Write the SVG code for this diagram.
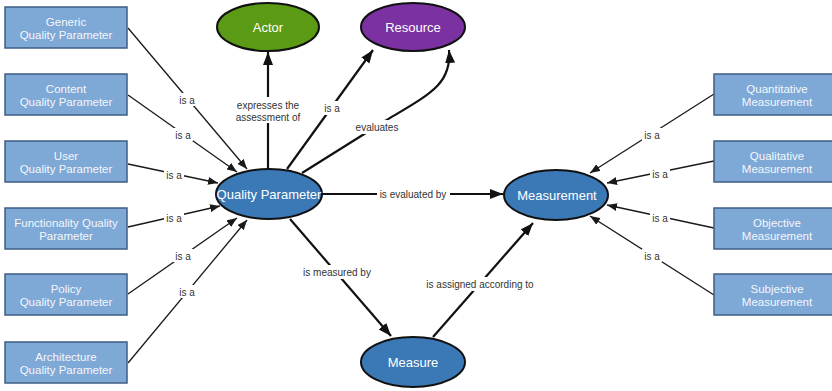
<svg xmlns="http://www.w3.org/2000/svg" width="832" height="391" viewBox="0 0 832 391">
<style>
.box{fill:#7ea8d5;stroke:#3f5e84;stroke-width:1.5}
.btxt{font-family:"Liberation Sans",Arial,sans-serif;font-size:11.5px;fill:#f4f7fc;text-anchor:middle}
.ell{stroke:#111;stroke-width:2}
.blue{fill:#3b78b6}
.etxt{font-family:"Liberation Sans",Arial,sans-serif;font-size:13px;fill:#fff;text-anchor:middle}
.thin{fill:none;stroke:#1a1a1a;stroke-width:1.3}
.thick{fill:none;stroke:#111;stroke-width:2.2}
.lbl{font-family:"Liberation Sans",Arial,sans-serif;font-size:10px;fill:#333;text-anchor:middle}
.bg{fill:#fff}
</style>
<defs>
<marker id="ah" markerUnits="userSpaceOnUse" markerWidth="11" markerHeight="8" refX="10" refY="4" orient="auto"><path d="M0,0 L10,4 L0,8 z" fill="#1a1a1a"/></marker>
<marker id="ahb" markerUnits="userSpaceOnUse" markerWidth="14" markerHeight="11" refX="13" refY="5" orient="auto"><path d="M0,0 L13,5 L0,10 z" fill="#111"/></marker>
</defs>
<rect width="832" height="391" fill="#fff"/>
<g id="connectors">
<line class="thin" x1="128" y1="28" x2="247" y2="169" marker-end="url(#ah)"/>
<line class="thin" x1="128" y1="95" x2="237" y2="172" marker-end="url(#ah)"/>
<line class="thin" x1="128" y1="164" x2="218" y2="183" marker-end="url(#ah)"/>
<line class="thin" x1="128" y1="227" x2="220" y2="206" marker-end="url(#ah)"/>
<line class="thin" x1="128" y1="294" x2="237" y2="218" marker-end="url(#ah)"/>
<line class="thin" x1="128" y1="363" x2="247" y2="220" marker-end="url(#ah)"/>
<line class="thin" x1="714" y1="94" x2="590" y2="173" marker-end="url(#ah)"/>
<line class="thin" x1="714" y1="161" x2="607" y2="183" marker-end="url(#ah)"/>
<line class="thin" x1="714" y1="228" x2="607" y2="205" marker-end="url(#ah)"/>
<line class="thin" x1="714" y1="295" x2="590" y2="216" marker-end="url(#ah)"/>
<line class="thick" x1="268" y1="169" x2="268" y2="52" marker-end="url(#ahb)"/>
<line class="thick" x1="287" y1="169" x2="373" y2="50" marker-end="url(#ahb)"/>
<path class="thick" d="M302,173 L385,121 C430,94 452,84 449,50" marker-end="url(#ahb)"/>
<line class="thick" x1="322" y1="194" x2="503" y2="194" marker-end="url(#ahb)"/>
<line class="thick" x1="290" y1="219" x2="391" y2="336" marker-end="url(#ahb)"/>
<line class="thick" x1="433" y1="337" x2="533" y2="223" marker-end="url(#ahb)"/>
<rect class="bg" x="177" y="93" width="20" height="13"/><text class="lbl" x="187" y="104">is a</text>
<rect class="bg" x="173" y="128" width="20" height="13"/><text class="lbl" x="183" y="139">is a</text>
<rect class="bg" x="164" y="168" width="20" height="13"/><text class="lbl" x="174" y="179">is a</text>
<rect class="bg" x="164" y="211" width="20" height="13"/><text class="lbl" x="174" y="222">is a</text>
<rect class="bg" x="173" y="249" width="20" height="13"/><text class="lbl" x="183" y="260">is a</text>
<rect class="bg" x="177" y="285" width="20" height="13"/><text class="lbl" x="187" y="296">is a</text>
<rect class="bg" x="642" y="128" width="20" height="13"/><text class="lbl" x="652" y="139">is a</text>
<rect class="bg" x="650" y="167" width="20" height="13"/><text class="lbl" x="660" y="178">is a</text>
<rect class="bg" x="650" y="211" width="20" height="13"/><text class="lbl" x="660" y="222">is a</text>
<rect class="bg" x="642" y="249" width="20" height="13"/><text class="lbl" x="652" y="260">is a</text>
<rect class="bg" x="233" y="97" width="70" height="26"/><text class="lbl" x="268" y="109">expresses the</text><text class="lbl" x="268" y="121">assessment of</text>
<rect class="bg" x="321" y="101" width="22" height="14"/><text class="lbl" x="332" y="112">is a</text>
<rect class="bg" x="353" y="120" width="48" height="14"/><text class="lbl" x="377" y="131">evaluates</text>
<rect class="bg" x="377" y="187" width="73" height="14"/><text class="lbl" x="413" y="198">is evaluated by</text>
<rect class="bg" x="300" y="265" width="76" height="14"/><text class="lbl" x="337" y="276">is measured by</text>
<rect class="bg" x="425" y="277" width="110" height="14"/><text class="lbl" x="480" y="288">is assigned according to</text>
</g>
<g id="generic"><rect class="box" x="5" y="7" width="122" height="41"/><text class="btxt" x="66" y="26">Generic</text><text class="btxt" x="66" y="39">Quality Parameter</text></g>
<g id="content"><rect class="box" x="5" y="74" width="122" height="41"/><text class="btxt" x="66" y="93">Content</text><text class="btxt" x="66" y="106">Quality Parameter</text></g>
<g id="user"><rect class="box" x="5" y="141" width="122" height="41"/><text class="btxt" x="66" y="160">User</text><text class="btxt" x="66" y="173">Quality Parameter</text></g>
<g id="functionality"><rect class="box" x="5" y="208" width="122" height="41"/><text class="btxt" x="66" y="227">Functionality Quality</text><text class="btxt" x="66" y="240">Parameter</text></g>
<g id="policy"><rect class="box" x="5" y="274" width="122" height="41"/><text class="btxt" x="66" y="293">Policy</text><text class="btxt" x="66" y="306">Quality Parameter</text></g>
<g id="architecture"><rect class="box" x="5" y="342" width="122" height="41"/><text class="btxt" x="66" y="361">Architecture</text><text class="btxt" x="66" y="374">Quality Parameter</text></g>
<g id="quantitative"><rect class="box" x="714" y="74" width="122" height="41"/><text class="btxt" x="777" y="93">Quantitative</text><text class="btxt" x="777" y="106">Measurement</text></g>
<g id="qualitative"><rect class="box" x="714" y="141" width="122" height="41"/><text class="btxt" x="777" y="160">Qualitative</text><text class="btxt" x="777" y="173">Measurement</text></g>
<g id="objective"><rect class="box" x="714" y="208" width="122" height="41"/><text class="btxt" x="777" y="227">Objective</text><text class="btxt" x="777" y="240">Measurement</text></g>
<g id="subjective"><rect class="box" x="714" y="274" width="122" height="41"/><text class="btxt" x="777" y="293">Subjective</text><text class="btxt" x="777" y="306">Measurement</text></g>
<g id="actor"><ellipse class="ell" cx="268" cy="27" rx="51" ry="24" fill="#5a9a14"/><text class="etxt" x="268" y="32">Actor</text></g>
<g id="resource"><ellipse class="ell" cx="413" cy="27" rx="52" ry="24" fill="#7b31a1"/><text class="etxt" x="413" y="32">Resource</text></g>
<g id="quality-parameter"><ellipse class="ell blue" cx="269" cy="194" rx="53" ry="25"/><text class="etxt" x="269" y="199">Quality Parameter</text></g>
<g id="measurement"><ellipse class="ell blue" cx="556" cy="195" rx="52" ry="25"/><text class="etxt" x="557" y="200">Measurement</text></g>
<g id="measure"><ellipse class="ell blue" cx="413" cy="362" rx="52" ry="25"/><text class="etxt" x="413" y="367">Measure</text></g>
</svg>
